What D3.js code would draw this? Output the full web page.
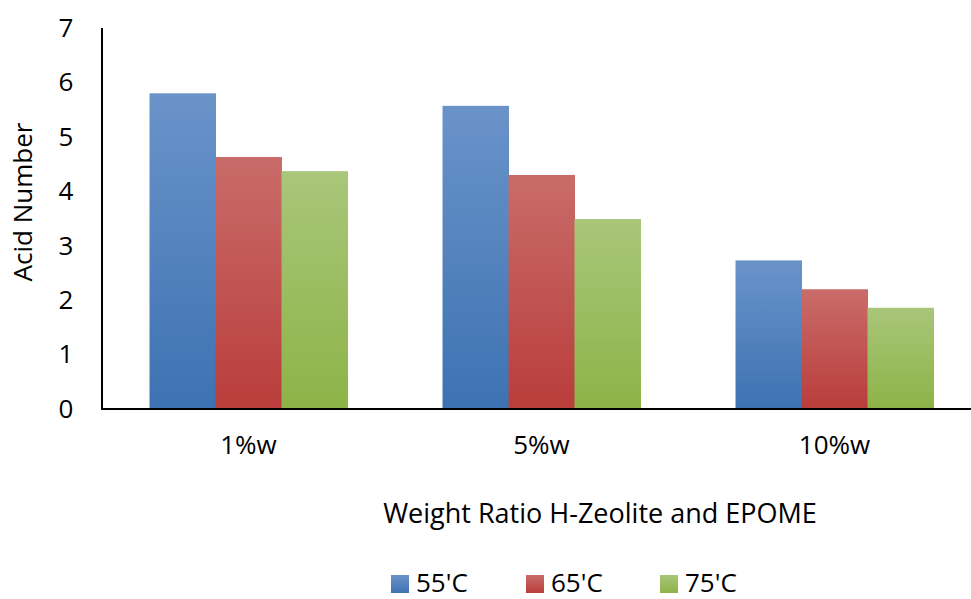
<!DOCTYPE html>
<html>
<head>
<meta charset="utf-8">
<script src="https://cdn.jsdelivr.net/npm/d3@7"></script>
<style>
  body { margin: 0; background: #fff; }
  svg { display: block; font-family: "Open Sans", "Noto Sans", sans-serif; }
</style>
</head>
<body>
<div id="chart"></div>
<script>
// data
const categories = ['1%w', '5%w', '10%w'];
const seriesNames = ["55'C", "65'C", "75'C"];
const values55 = [5.8, 5.57, 2.73];
const values65 = [4.63, 4.3, 2.2];
const values75 = [4.37, 3.49, 1.86];
const yTicks = [0, 1, 2, 3, 4, 5, 6, 7];

const width = 971, height = 599;
const plotLeft = 102, plotBottom = 409, plotTop = 28;
const fontSize = 26;

// top/bottom colours of each bar gradient
const gradColors = [
  ['#6a93c9', '#3d72b2'],
  ['#c96c69', '#b93d3b'],
  ['#a9c67a', '#8db347']
];

const svg = d3.select('#chart').append('svg')
  .attr('width', width)
  .attr('height', height);

const defs = svg.append('defs');
gradColors.forEach((c, i) => {
  const g = defs.append('linearGradient')
    .attr('id', 'grad' + i)
    .attr('x1', 0).attr('y1', 0).attr('x2', 0).attr('y2', 1);
  g.append('stop').attr('offset', '0%').attr('stop-color', c[0]);
  g.append('stop').attr('offset', '100%').attr('stop-color', c[1]);
});

const y = d3.scaleLinear().domain([0, 7]).range([plotBottom, plotTop]);

const x0 = d3.scaleBand()
  .domain(categories)
  .range([plotLeft, plotLeft + 879])
  .padding(0);

const x1 = d3.scaleBand()
  .domain(seriesNames)
  .range([0, x0.bandwidth()])
  .paddingInner(0)
  .paddingOuter(0.72);

const rows = categories.map((c, i) => ({
  cat: c,
  vals: [values55[i], values65[i], values75[i]]
}));

// bars
const groups = svg.append('g').selectAll('g')
  .data(rows)
  .join('g')
  .attr('transform', d => `translate(${x0(d.cat)},0)`);

groups.selectAll('rect')
  .data(d => d.vals.map((v, i) => ({ name: seriesNames[i], v, i })))
  .join('rect')
  .attr('x', d => x1(d.name))
  .attr('y', d => y(d.v))
  .attr('width', x1.bandwidth() + 0.5)
  .attr('height', d => y(0) - y(d.v))
  .attr('fill', d => `url(#grad${d.i})`);

// y axis
const yAxis = svg.append('g')
  .attr('transform', `translate(${plotLeft},0)`)
  .call(d3.axisLeft(y).tickValues(yTicks).tickFormat(d3.format('d')).tickSize(0));
yAxis.select('.domain').attr('stroke', '#000').attr('stroke-width', 2)
  .attr('d', `M0,${plotTop}V${plotBottom}`);
yAxis.selectAll('text')
  .attr('font-size', fontSize)
  .attr('fill', '#000')
  .attr('font-family', '"Open Sans", "Noto Sans", sans-serif')
  .attr('text-anchor', 'middle')
  .attr('x', -36);

// x axis
const xAxis = svg.append('g')
  .attr('transform', `translate(0,${plotBottom})`)
  .call(d3.axisBottom(x0).tickSize(0).tickPadding(27));
xAxis.select('.domain').attr('stroke', '#000').attr('stroke-width', 2)
  .attr('d', `M${plotLeft - 1},0H${width}`);
xAxis.selectAll('text')
  .attr('font-size', fontSize)
  .attr('fill', '#000')
  .attr('font-family', '"Open Sans", "Noto Sans", sans-serif');

// axis titles
svg.append('text')
  .attr('x', 600)
  .attr('y', 523)
  .attr('text-anchor', 'middle')
  .attr('font-size', 27)
  .text('Weight Ratio H-Zeolite and EPOME');

svg.append('text')
  .attr('transform', 'translate(32,202) rotate(-90)')
  .attr('text-anchor', 'middle')
  .attr('font-size', fontSize)
  .text('Acid Number');

// legend
const legendX = [391, 526, 660];
const legend = svg.append('g').selectAll('g')
  .data(seriesNames)
  .join('g')
  .attr('transform', (d, i) => `translate(${legendX[i]},575)`);
legend.append('rect')
  .attr('width', 18).attr('height', 18)
  .attr('fill', (d, i) => `url(#grad${i})`);
legend.append('text')
  .attr('x', 25)
  .attr('y', 17)
  .attr('font-size', fontSize)
  .text(d => d);
</script>
</body>
</html>
